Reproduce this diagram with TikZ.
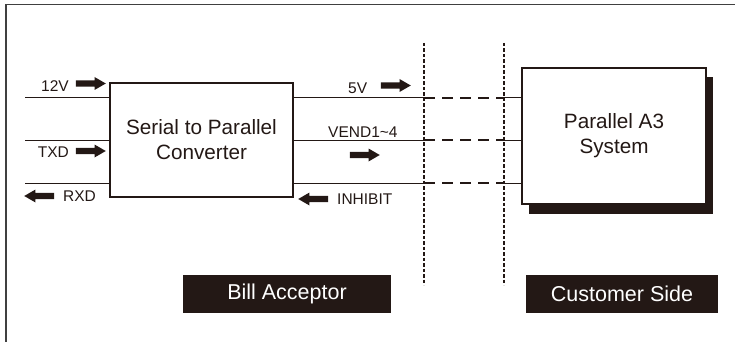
\documentclass[tikz,border=0pt]{standalone}
\usepackage{fontspec}
\setmainfont{Liberation Sans}
\usepackage{xcolor}
\usepackage{tikz}
\usetikzlibrary{positioning, shapes.arrows, shadows}
\definecolor{ink}{RGB}{35,24,21}

\begin{document}
\begin{tikzpicture}[
  x=1pt, y=-1pt,
  every node/.style={text=ink},
  wire/.style={draw=ink, line width=1pt},
  link/.style={draw=ink, line width=2.2pt, dash pattern=on 11pt off 7pt},
  fence/.style={draw=ink, line width=2.2pt, dash pattern=on 3.5pt off 2pt},
  block/.style={draw=ink, fill=white, line width=1.2pt, align=center,
                font=\fontsize{20.7}{25}\selectfont},
  sig/.style={font=\fontsize{15.5}{18}\selectfont, inner sep=0pt},
  barrow/.style={single arrow, fill=ink, draw=none, inner xsep=0pt,
                 inner ysep=3pt, minimum height=30pt,
                 single arrow head extend=3.3pt, single arrow tip angle=60},
  larrow/.style={barrow, shape border rotate=180},
  tag/.style={fill=ink, text=white, minimum width=#1, minimum height=38pt,
              font=\fontsize{21.5}{26}\selectfont},
]
\useasboundingbox (0,0) rectangle (735,342);
\draw[black!75, line width=1.5pt] (6,342) -- (6,4.5) -- (735,4.5);

\node[block, minimum width=183pt, minimum height=114pt] (conv) at (201.5,140)
  {Serial to Parallel\\Converter};
\node[block, minimum width=184pt, minimum height=136pt,
      drop shadow={shadow xshift=7pt, shadow yshift=-9.5pt, fill=ink, opacity=1}]
  (sys) at (614,136) {Parallel A3\\System};

% signal lines
\coordinate (in1) at (25,98);
\coordinate (in2) at (25,140);
\coordinate (in3) at (25,183);
\draw[wire] (in1) -- (in1 -| conv.west);
\draw[wire] (in2) -- (in2 -| conv.west);
\draw[wire] (in3) -- (in3 -| conv.west);
\foreach \y/\n in {98/1, 140/2, 183/3} {
  \coordinate (ca\n) at (424,\y);
  \coordinate (cb\n) at (504,\y);
  \draw[wire] (ca\n -| conv.east) -- (ca\n);
  \draw[link] (ca\n) -- (cb\n);
  \draw[wire] (cb\n) -- (cb\n -| sys.west);
}

% boundaries
\coordinate (f1t) at (424,43);
\coordinate (f1b) at (424,285);
\coordinate (f2t) at (504,43);
\coordinate (f2b) at (504,285);
\draw[fence] (f1t) -- (f1b);
\draw[fence] (f2t) -- (f2b);

% arrows and labels
\node[barrow] (a12v) at (88,83.5) {};
\node[barrow] (atxd) at (88,151) {};
\node[larrow] (arxd) at (42,196) {};
\node[barrow] (a5v)  at (393,85.5) {};
\node[barrow] (aven) at (362,155) {};
\node[larrow] (ainh) at (316,199) {};
\node[sig, anchor=base east] (t12v) at (69,92)  {12V};
\node[sig, anchor=base east] (ttxd) at (69,157) {TXD};
\node[sig, anchor=base west] (trxd) at (63,201) {RXD};
\node[sig, anchor=base west] (t5v)  at (348,94) {5V};
\node[sig, anchor=base west] (tven) at (328,137) {VEND1\textasciitilde4};
\node[sig, anchor=base west] (tinh) at (337,204) {INHIBIT};

\node[tag=208pt] (bill) at (287,294) {Bill Acceptor};
\node[tag=192pt] (cust) at (622,294) {Customer Side};
\end{tikzpicture}
\end{document}
